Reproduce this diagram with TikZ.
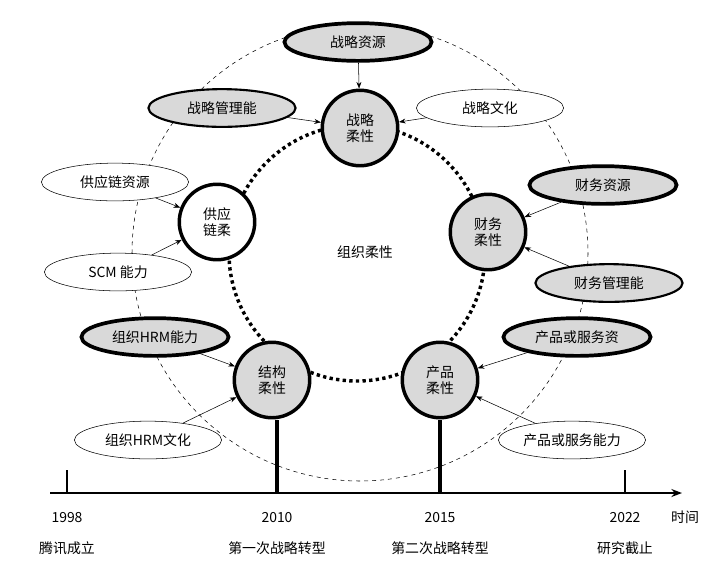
\documentclass[tikz,border=0pt]{standalone}
\usepackage{fontspec}
\setmainfont{Noto Sans CJK SC}
\usetikzlibrary{arrows.meta,positioning}
\definecolor{nGray}{HTML}{D9D9D9}
\tikzset{flex/.style={circle, draw, line width=2.6pt, minimum size=2cm, inner sep=0pt, align=center},
  gflex/.style={flex, fill=nGray},
  res/.style={ellipse, draw, thin, minimum width=3.9cm, minimum height=1cm, inner sep=0pt},
  gres/.style={res, fill=nGray, line width=1.6pt},
  tres/.style={res, fill=nGray, line width=2.8pt},
  a/.style={draw, thin, -{Stealth[length=5pt]}},
  ring/.style={draw, line width=2.6pt, dash pattern=on 2.5pt off 2.5pt},
  tk/.style={draw, line width=2.8pt}}
\usetikzlibrary{shapes.geometric}
\begin{document}
\begin{tikzpicture}[x=0.0265cm, y=-0.0265cm, font=\fontsize{10.5}{12}\selectfont]
  \useasboundingbox (0,0) rectangle (717,572);
  \draw[dashed, thin] (360,253) circle (228);
  \draw[ring] (357,253) circle (128);
  % flexibility nodes
  \node (zl) at (360,128) [gflex] {战略\\柔性};
  \node (cw) at (488,232) [gflex] {财务\\柔性};
  \node (cp) at (440,380) [gflex] {产品\\柔性};
  \node (jg) at (272,380) [gflex] {结构\\柔性};
  \node (gy) at (217,222) [flex, fill=white] {供应\\链柔};
  \node (zz) at (365,252) {组织柔性};
  % resources
  \node (r1) at (358,42) [tres] {战略资源};
  \node (r2) at (222,108) [gres] {战略管理能};
  \node (r3) at (490,108) [res, fill=white] {战略文化};
  \node (r4) at (115,182) [res, fill=white] {供应链资源};
  \node (r5) at (603,185) [tres] {财务资源};
  \node (r6) at (118,272) [res, fill=white] {SCM 能力};
  \node (r7) at (609,283) [gres] {财务管理能};
  \node (r8) at (155,337) [tres] {组织HRM能力};
  \node (r9) at (577,337) [tres] {产品或服务资};
  \node (r10) at (148,440) [res, fill=white] {组织HRM文化};
  \node (r11) at (572,440) [res, fill=white] {产品或服务能力};
  \draw [a] (r1) to (zl); \draw [a] (r2) to (zl); \draw [a] (r3) to (zl);
  \draw [a] (r4) to (gy); \draw [a] (r6) to (gy);
  \draw [a] (r5) to (cw); \draw [a] (r7) to (cw);
  \draw [a] (r8) to (jg); \draw [a] (r10) to (jg);
  \draw [a] (r9) to (cp); \draw [a] (r11) to (cp);
  % timeline
  \coordinate (t0) at (50,493); \coordinate (t1) at (682,493);
  \draw [line width=1.4pt, -{Stealth[length=8pt]}] (t0) -- (t1);
  \coordinate (k1) at (67,470); \coordinate (k1b) at (67,493);
  \coordinate (k2) at (277,420); \coordinate (k2b) at (277,493);
  \coordinate (k3) at (440,420); \coordinate (k3b) at (440,493);
  \coordinate (k4) at (625,470); \coordinate (k4b) at (625,493);
  \draw [thick] (k1) -- (k1b); \draw [tk] (k2) -- (k2b);
  \draw [tk] (k3) -- (k3b); \draw [thick] (k4) -- (k4b);
  \node (y1) at (67,518) {1998}; \node (l1) at (67,548) {腾讯成立};
  \node (y2) at (277,518) {2010}; \node (l2) at (277,548) {第一次战略转型};
  \node (y3) at (440,518) {2015}; \node (l3) at (440,548) {第二次战略转型};
  \node (y4) at (625,518) {2022}; \node (l4) at (625,548) {研究截止};
  \node (tm) at (685,517) {时间};
\end{tikzpicture}
\end{document}
